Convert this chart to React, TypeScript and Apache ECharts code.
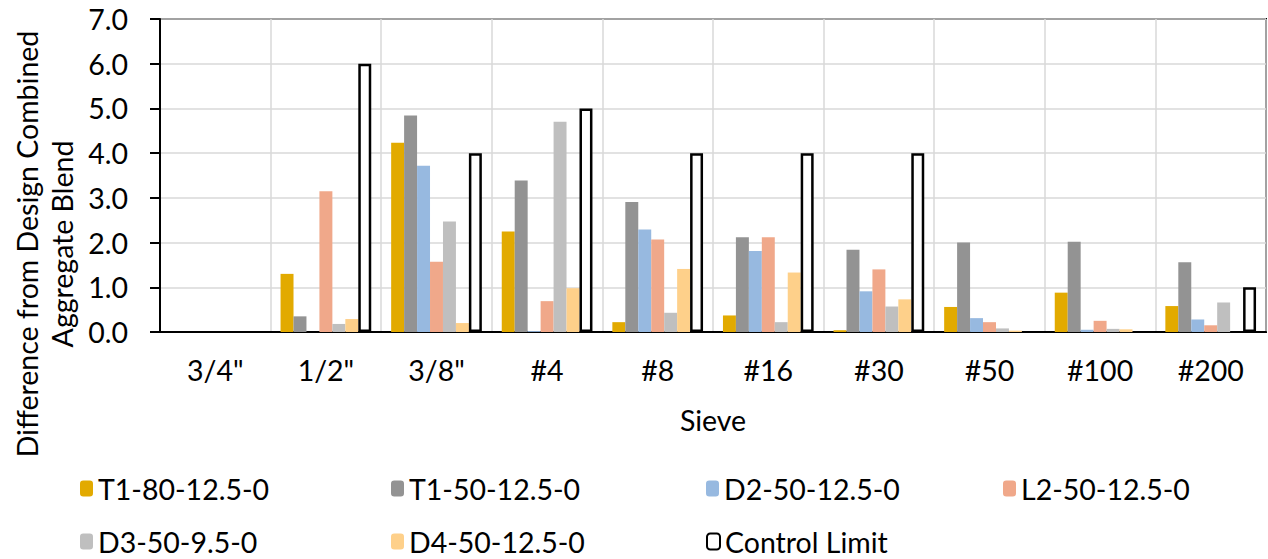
import React, { useEffect, useRef } from "react";
import * as echarts from "echarts";

// Sieve sizes along the x axis
const sieves = ['3/4"', '1/2"', '3/8"', "#4", "#8", "#16", "#30", "#50", "#100", "#200"];

// Difference from the design combined aggregate blend, per mix
const t1_80 = [0, 1.3, 4.23, 2.25, 0.22, 0.37, 0.04, 0.56, 0.88, 0.58];
const t1_50 = [0, 0.35, 4.84, 3.39, 2.91, 2.12, 1.84, 2.0, 2.02, 1.56];
const d2_50 = [0, 0, 3.72, 0.02, 2.29, 1.81, 0.91, 0.31, 0.05, 0.28];
const l2_50 = [0, 3.15, 1.57, 0.69, 2.07, 2.12, 1.4, 0.22, 0.25, 0.15];
const d3_50 = [0, 0.18, 2.47, 4.7, 0.43, 0.22, 0.57, 0.08, 0.07, 0.66];
const d4_50 = [0, 0.29, 0.2, 0.98, 1.41, 1.33, 0.73, 0.03, 0.06, 0];
const controlLimit = [null, 6, 4, 5, 4, 4, 4, null, null, 1];

// Y axis tick range
const yMin = 0;
const yMax = 7;
const yStep = 1;

const FONT = "Lato";
const FS = 28.5;

const mixes = [
  { name: "T1-80-12.5-0", data: t1_80, color: "#E2AA00" },
  { name: "T1-50-12.5-0", data: t1_50, color: "#939393" },
  { name: "D2-50-12.5-0", data: d2_50, color: "#97B9E0" },
  { name: "L2-50-12.5-0", data: l2_50, color: "#F0A88A" },
  { name: "D3-50-9.5-0", data: d3_50, color: "#BFBFBF" },
  { name: "D4-50-12.5-0", data: d4_50, color: "#FED08A" },
];

// Legend layout: four columns, two rows
const legendSlots = [
  { left: 80, top: 474 },
  { left: 391, top: 474 },
  { left: 706, top: 474 },
  { left: 1003, top: 474 },
  { left: 80, top: 527 },
  { left: 391, top: 527 },
  { left: 706, top: 527 },
];

export default function App() {
  const ref = useRef<HTMLDivElement>(null);

  useEffect(() => {
    if (!ref.current) return;
    const chart = echarts.init(ref.current, null, { renderer: "svg" });

    const names = [...mixes.map((m) => m.name), "Control Limit"];

    const series: any[] = mixes.map((m) => ({
      name: m.name,
      type: "bar",
      data: m.data,
      barGap: "0%",
      barCategoryGap: "18%",
      itemStyle: { color: m.color },
    }));
    series.push({
      name: "Control Limit",
      type: "bar",
      data: controlLimit,
      barGap: "0%",
      barCategoryGap: "18%",
      itemStyle: { color: "#ffffff", borderColor: "#000000", borderWidth: 2.5 },
    });

    const legends = names.map((n, i) => ({
      data: [n],
      left: legendSlots[i].left,
      top: legendSlots[i].top,
      itemWidth: 13,
      itemHeight: 16,
      itemGap: 0,
      padding: 0,
      textStyle: { color: "#000", fontFamily: FONT, fontSize: FS },
      selectedMode: false,
    }));

    chart.setOption({
      animation: false,
      backgroundColor: "#ffffff",
      textStyle: { fontFamily: FONT },
      grid: {
        left: 160,
        right: 2,
        top: 19,
        bottom: 227,
        show: true,
        borderColor: "#000",
        borderWidth: 2,
        backgroundColor: "transparent",
      },
      legend: legends,
      xAxis: {
        type: "category",
        data: sieves,
        boundaryGap: true,
        axisLine: { lineStyle: { color: "#000", width: 2 } },
        axisTick: { show: false },
        axisLabel: { color: "#000", fontFamily: FONT, fontSize: FS, margin: 23, interval: 0 },
        splitLine: { show: true, lineStyle: { color: "#d9d9d9", width: 1.5 } },
        name: "Sieve",
        nameLocation: "middle",
        nameGap: 73,
        nameTextStyle: { color: "#000", fontFamily: FONT, fontSize: FS },
      },
      yAxis: {
        type: "value",
        min: yMin,
        max: yMax,
        interval: yStep,
        axisLine: { show: true, lineStyle: { color: "#000", width: 2 } },
        axisTick: { show: true, length: 10, lineStyle: { color: "#000", width: 2 } },
        axisLabel: {
          color: "#000",
          fontFamily: FONT,
          fontSize: FS,
          margin: 32,
          formatter: (v: number) => v.toFixed(1),
        },
        splitLine: { show: true, lineStyle: { color: "#d9d9d9", width: 1.5 } },
      },
      graphic: [
        {
          type: "text",
          x: 44,
          y: 244,
          rotation: Math.PI / 2,
          style: {
            text: "Difference from Design Combined\nAggregate Blend",
            fill: "#000",
            font: `${FS}px ${FONT}`,
            lineHeight: 35,
            align: "center",
            verticalAlign: "middle",
          },
        },
      ],
      series,
    });

    return () => chart.dispose();
  }, []);

  return (
    <div
      ref={ref}
      style={{ position: "fixed", left: 0, top: 0, width: 1268, height: 559 }}
    />
  );
}
